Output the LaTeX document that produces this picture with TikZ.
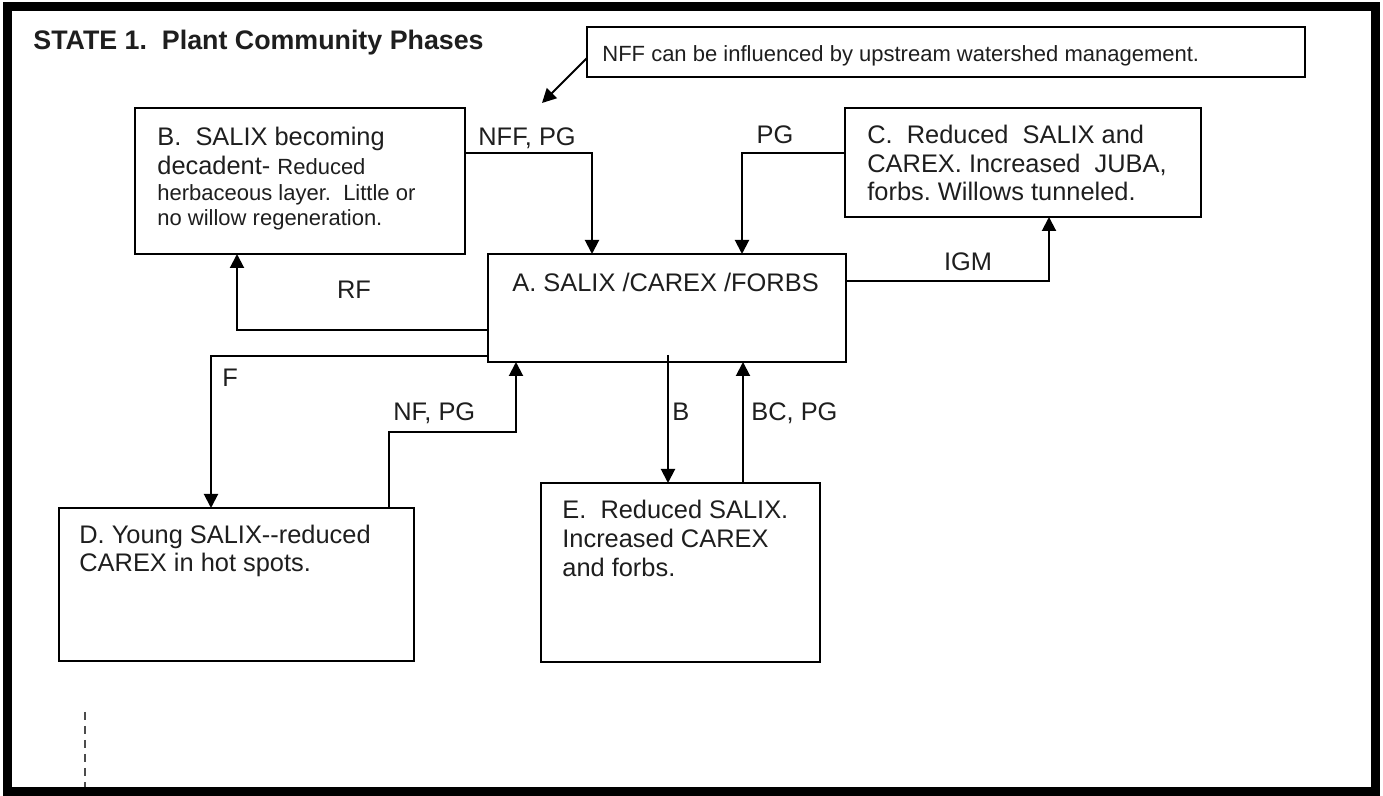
\documentclass[tikz,border=0pt]{standalone}
\usepackage{fontspec}
\setmainfont{Liberation Sans}
\usetikzlibrary{arrows.meta,calc}
\definecolor{ink}{HTML}{1E1E1E}
\newcommand{\bigf}{\fontsize{12.7}{14.5}\selectfont}
\newcommand{\smallf}{\fontsize{11}{13}\selectfont}
\frenchspacing
\begin{document}
\frenchspacing
\begin{tikzpicture}[x=0.5pt,y=-0.5pt,
  boxnode/.style={draw=black, line width=1.1pt, inner sep=0pt, outer sep=0pt, anchor=north west},
  txt/.style={inner sep=0pt, anchor=base west, text=ink, font=\bigf},
  stxt/.style={inner sep=0pt, anchor=base west, text=ink, font=\smallf},
  lbl/.style={inner sep=0pt, anchor=base west, text=ink, font=\bigf},
  arr/.style={draw=black, line width=1pt, -{Triangle[width=7pt,length=7pt]}},
  plain/.style={draw=black, line width=1pt}
]
\useasboundingbox (0,0) rectangle (1383,796);
\draw[line width=4.5pt] (7.5,7) rectangle (1375.5,791);

% title
\node[inner sep=0pt, anchor=base west, text=ink, font=\fontsize{13.4}{15}\selectfont\bfseries] (title) at (33,50) {STATE 1.\ \ Plant Community Phases};

% boxes
\node[boxnode, minimum width=359pt, minimum height=25pt] (N) at (587,27) {};
\node[boxnode, minimum width=165pt, minimum height=73pt] (B) at (135,108) {};
\node[boxnode, minimum width=178pt, minimum height=54.5pt] (C) at (845,108) {};
\node[boxnode, minimum width=179pt, minimum height=54pt] (A) at (488,254) {};
\node[boxnode, minimum width=177.5pt, minimum height=76.5pt] (D) at (59,508) {};
\node[boxnode, minimum width=139.5pt, minimum height=89.5pt] (E) at (541,483) {};

% box texts
\node[stxt] (nt) at (602,62) {NFF can be influenced by upstream watershed management.};
\node[txt] (b1) at (157,146) {B.\ \ SALIX becoming};
\node[txt] (b2) at (157,175) {decadent- {\smallf Reduced}};
\node[stxt] (b3) at (157,201) {herbaceous layer.\ \ Little or};
\node[stxt] (b4) at (157,226) {no willow regeneration.};
\node[txt] (c1) at (867,144) {C.\ \ Reduced\ \ SALIX and};
\node[txt] (c2) at (867,173) {CAREX. Increased\ \ JUBA,};
\node[txt] (c3) at (867,201) {forbs. Willows tunneled.};
\node[txt] (a1) at (512,292) {A. SALIX /CAREX /FORBS};
\node[txt] (d1) at (79,544) {D. Young SALIX-{}-reduced};
\node[txt] (d2) at (79,572) {CAREX in hot spots.};
\node[txt] (e1) at (562,519) {E.\ \ Reduced SALIX.};
\node[txt] (e2) at (562,548) {Increased CAREX};
\node[txt] (e3) at (562,577) {and forbs.};

% note arrow
\coordinate (ntip) at (542,103);
\draw[arr] ($(N.west)+(0,6)$) -- (ntip);

% connectors
\draw[arr] ($(B.north east)+(0,45)$) -| ($(A.north west)+(104,0)$);
\draw[arr] ($(C.north west)+(0,45)$) -| ($(A.north west)+(254,0)$);
\draw[arr] ($(A.north east)+(0,27)$) -| ($(C.south west)+(204,0)$);
\draw[arr] ($(A.north west)+(0,76)$) -| ($(B.south west)+(102,0)$);
\draw[arr] ($(A.north west)+(0,102)$) -| ($(D.north west)+(152,0)$);
\draw[arr] ($(D.north west)+(330,0)$) -- ++(0,-76) -| ($(A.south west)+(28,0)$);
\draw[arr] ($(A.south west)+(180,-7)$) -- ($(E.north west)+(127,0)$);
\draw[arr] ($(E.north west)+(202,0)$) -- ($(A.south west)+(255,0)$);

% connector labels
\node[lbl] (lnff) at (478,146) {NFF, PG};
\node[lbl, anchor=base] (lpg) at (775,144) {PG};
\node[lbl, anchor=base] (ligm) at (968,271) {IGM};
\node[lbl, anchor=base] (lrf) at (354,299) {RF};
\node[lbl] (lf) at (222,387) {F};
\node[lbl] (lnf) at (393,421) {NF, PG};
\node[lbl] (lb) at (672,421) {B};
\node[lbl] (lbc) at (751,421) {BC, PG};

% dashed line at bottom left
\coordinate (dtop) at (85,712);
\coordinate (dbot) at (85,787);
\draw[draw=black!70, line width=1pt, dash pattern=on 4pt off 3pt] (dtop) -- (dbot);
\end{tikzpicture}
\end{document}
